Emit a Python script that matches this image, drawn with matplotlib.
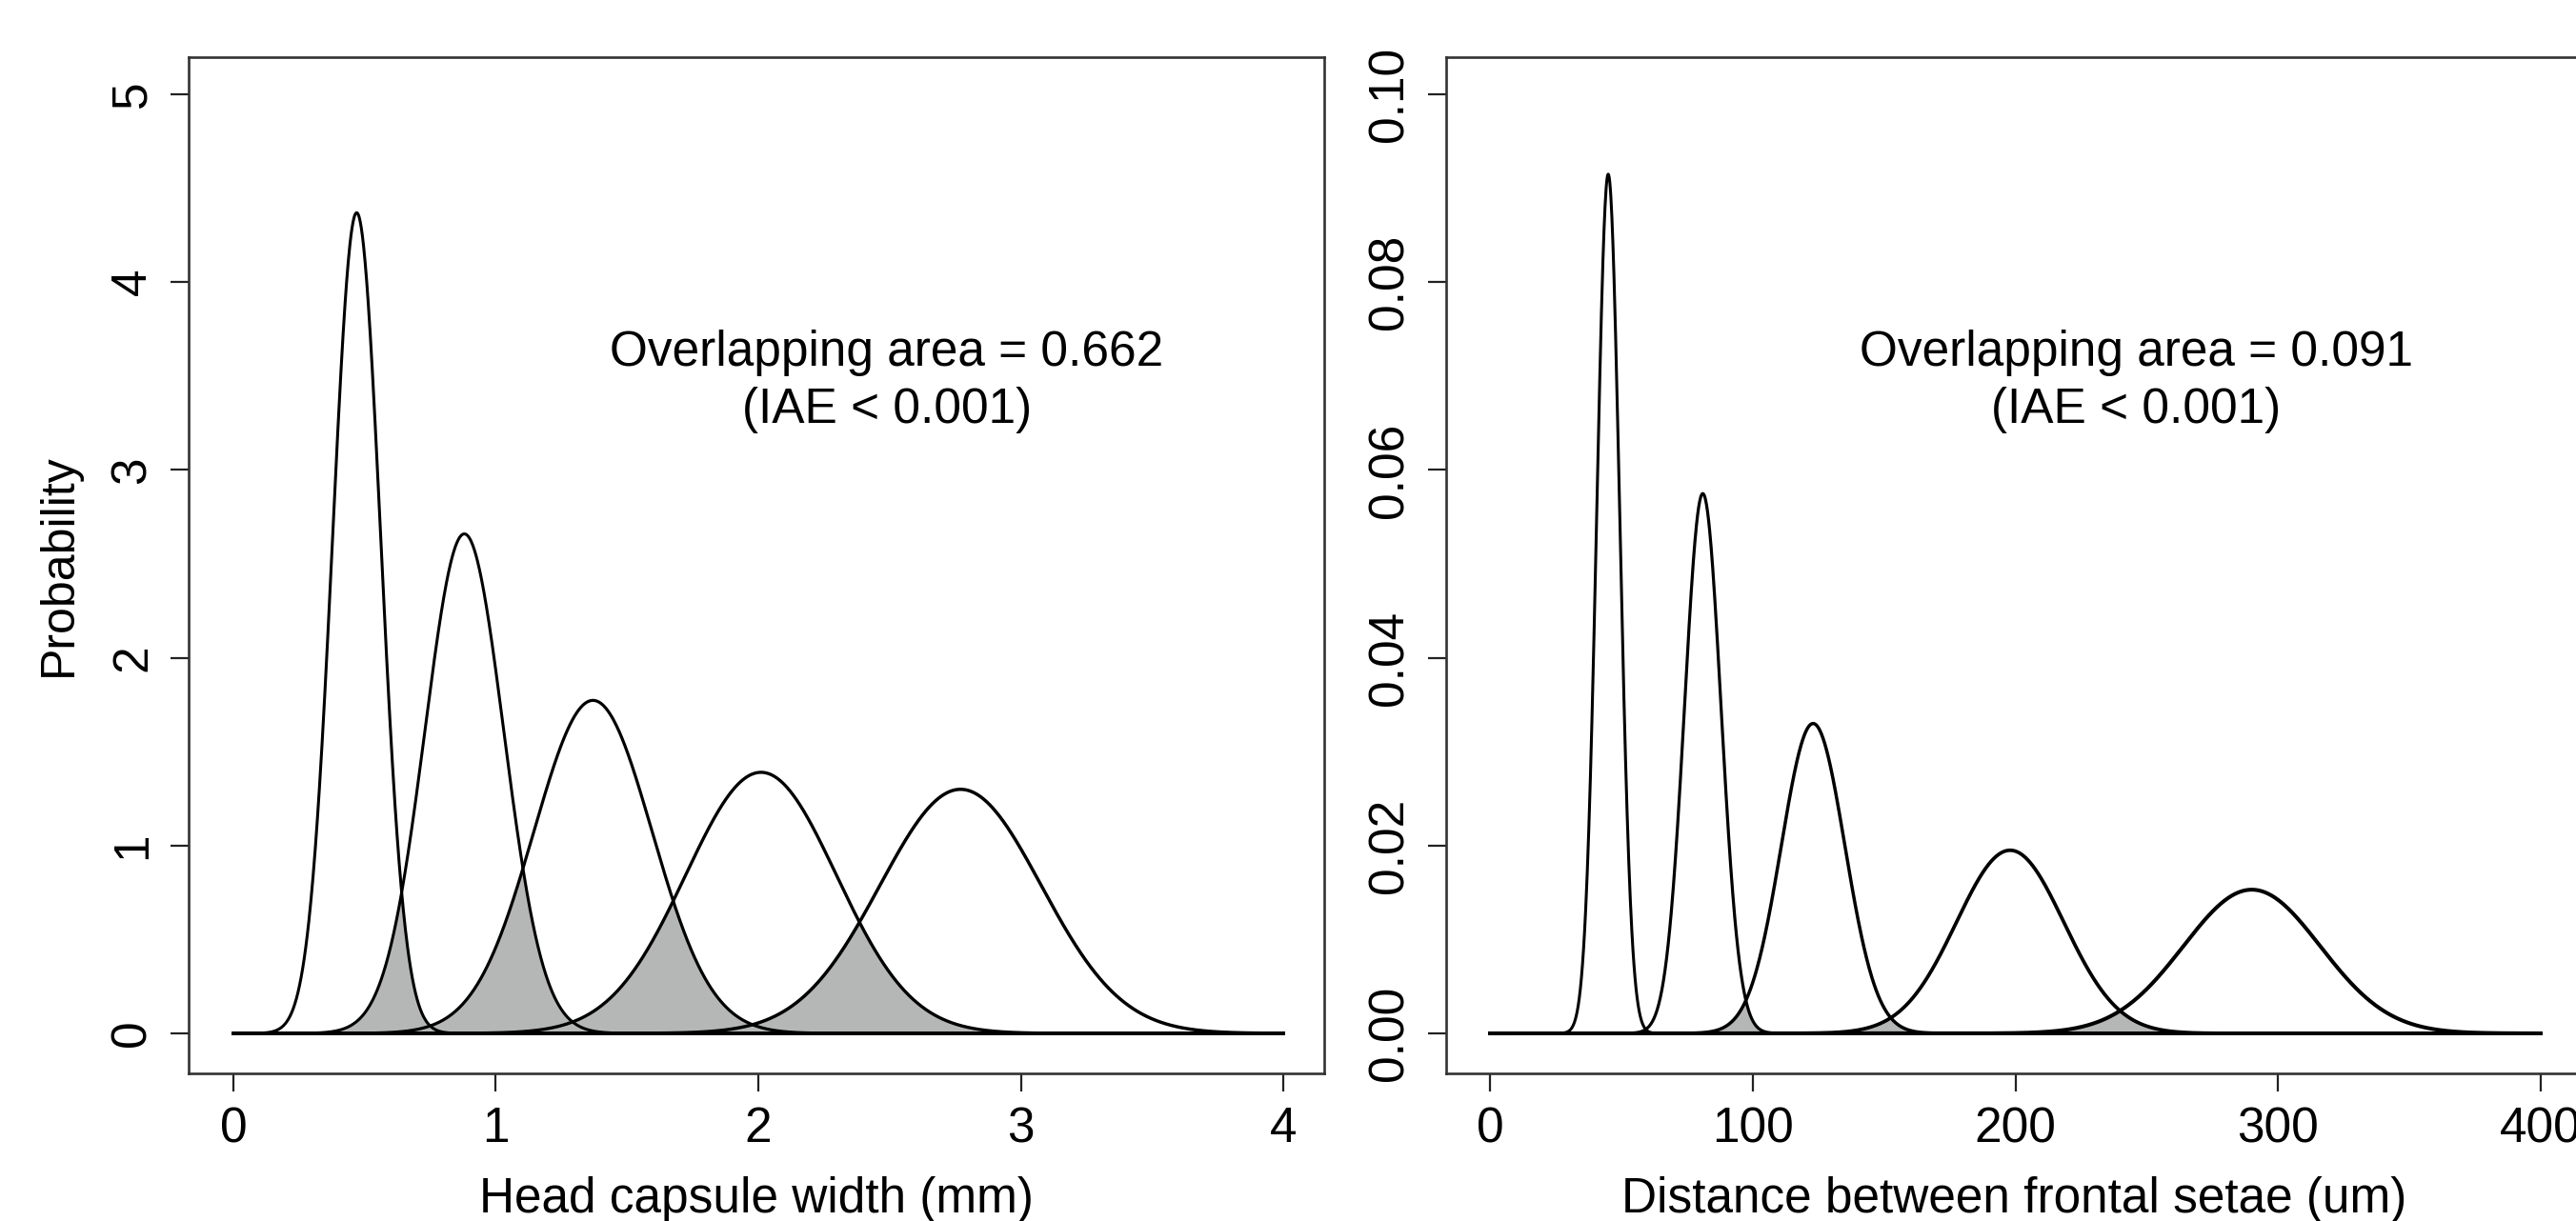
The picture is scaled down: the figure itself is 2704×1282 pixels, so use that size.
import numpy as np
import matplotlib
matplotlib.use("Agg")
import matplotlib.pyplot as plt

plt.rcParams['font.family'] = ['Liberation Sans', 'DejaVu Sans']

# ---- data: fitted normal components (mean, sd) ----
head_means = [0.47, 0.88, 1.37, 2.01, 2.77]
head_sds = [0.0913, 0.150, 0.225, 0.287, 0.307]
head_ticks_x = [0, 1, 2, 3, 4]
head_ticks_y = [0, 1, 2, 3, 4, 5]
head_label = "Head capsule width (mm)"
head_note = "Overlapping area = 0.662\n(IAE < 0.001)"

setae_means = [45.0, 81.0, 123.0, 198.0, 290.0]
setae_sds = [4.36, 6.94, 12.09, 20.46, 26.07]
setae_ticks_x = [0, 100, 200, 300, 400]
setae_ticks_y = [0.00, 0.02, 0.04, 0.06, 0.08, 0.10]
setae_label = "Distance between frontal setae (um)"
setae_note = "Overlapping area = 0.091\n(IAE < 0.001)"

ylabel = "Probability"

W, H = 2704, 1282
FS = 37
fig = plt.figure(figsize=(W / 100, H / 100), dpi=100)


def npdf(x, m, s):
    return np.exp(-0.5 * ((x - m) / s) ** 2) / (s * np.sqrt(2 * np.pi))


def panel(rect, means, sds, xmax, xlim, ylim, xt, yt, yfmt, xlabel, note, note_xy, show_ylabel, lws):
    ax = fig.add_axes(rect)
    x = np.linspace(0, xmax, 2001)
    dens = np.array([npdf(x, m, s) for m, s in zip(means, sds)])
    srt = np.sort(dens, axis=0)
    second = srt[-2]
    ax.fill_between(x, 0, second, color='#b5b7b6', lw=0, zorder=1)
    for d, lw in zip(dens, lws):
        ax.plot(x, d, color='black', lw=lw, zorder=2)
    ax.plot([0, xmax], [0, 0], color='black', lw=2.6, zorder=2)
    ax.set_xlim(*xlim)
    ax.set_ylim(*ylim)
    ax.set_xticks(xt)
    ax.set_xticklabels([str(v) for v in xt])
    ax.set_yticks(yt)
    ax.set_yticklabels([yfmt(v) for v in yt], rotation=90, va='center')
    ax.tick_params(axis='both', direction='out', length=13.5, width=1.6,
                   labelsize=FS, color='#222222')
    ax.tick_params(axis='x', pad=11)
    ax.tick_params(axis='y', pad=11)
    for sp in ax.spines.values():
        sp.set_linewidth(1.9)
        sp.set_color('#333333')
    ax.set_xlabel(xlabel, fontsize=FS, labelpad=18)
    if show_ylabel:
        ax.set_ylabel(ylabel, fontsize=FS - 1, labelpad=22)
    ax.text(note_xy[0], note_xy[1], note, ha='center', va='center',
            fontsize=FS, linespacing=1.28, zorder=3)
    return ax


# left panel: box 198..1390 px, 60..1127 px
panel([198 / W, 1 - 1127 / H, (1390 - 198) / W, (1127 - 60) / H],
      head_means, head_sds, 4.0, (-0.17, 4.155), (-0.213, 5.198),
      head_ticks_x, head_ticks_y, lambda v: str(int(v)),
      head_label, head_note, (2.49, 3.47), True,
      [2.2, 2.2, 2.3, 2.4, 2.5])

# right panel: box 1518..2710 px
panel([1518 / W, 1 - 1127 / H, (2710 - 1518) / W, (1127 - 60) / H],
      setae_means, setae_sds, 400.0, (-16.7, 415.6), (-0.00426, 0.10396),
      setae_ticks_x, setae_ticks_y, lambda v: f"{v:.2f}",
      setae_label, setae_note, (246, 0.0694), False,
      [2.2, 2.3, 2.5, 2.7, 2.9])

fig.savefig("out.png", dpi=100)
